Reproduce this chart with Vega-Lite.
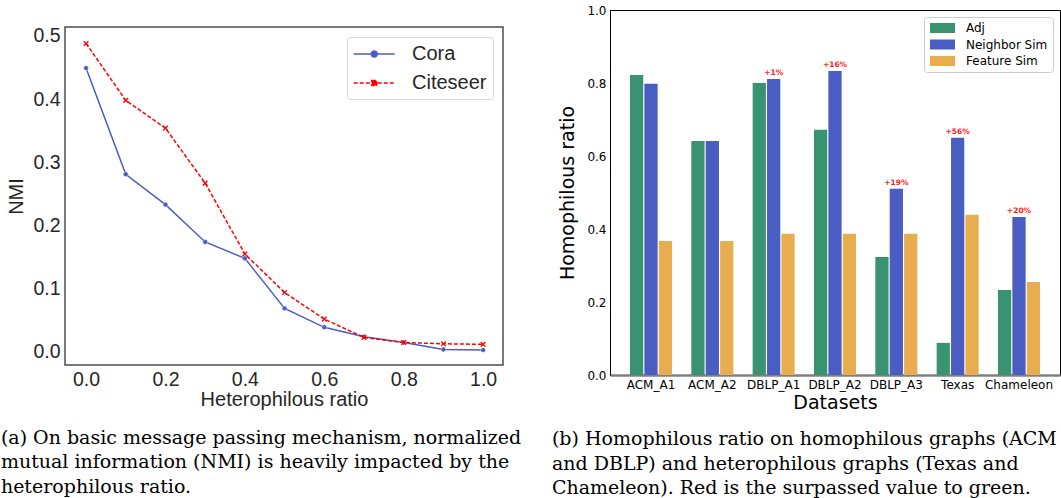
{
  "$schema": "https://vega.github.io/schema/vega-lite/v6.json",
  "padding": {"left": 0, "top": 3, "right": 0, "bottom": 0},
  "background": "white",
  "spacing": 28,
  "resolve": {"scale": {"color": "independent"}, "legend": {"color": "independent"}},
  "hconcat": [
    {
      "spacing": 0,
      "resolve": {"scale": {"color": "independent"}, "legend": {"color": "independent"}},
      "vconcat": [
        {
          "width": 438,
          "height": 15,
          "data": {"values": []},
          "mark": "point",
          "view": {"stroke": null}
        },
        {
          "width": 438,
          "height": 338,
          "title": {
            "text": ["(a) On basic message passing mechanism, normalized", "mutual information (NMI) is heavily impacted by the", "heterophilous ratio."],
            "orient": "bottom", "anchor": "start", "font": "DejaVu Serif", "fontSize": 19, "fontWeight": "normal",
            "lineHeight": 24.5, "color": "black", "offset": 19, "dx": -6
          },
          "view": {"stroke": "#4d4d4d", "strokeWidth": 1.5},
          "data": {"values": [
            {"ratio": 0.0, "series": "Cora", "nmi": 0.449},
            {"ratio": 0.1, "series": "Cora", "nmi": 0.281},
            {"ratio": 0.2, "series": "Cora", "nmi": 0.233},
            {"ratio": 0.3, "series": "Cora", "nmi": 0.174},
            {"ratio": 0.4, "series": "Cora", "nmi": 0.148},
            {"ratio": 0.5, "series": "Cora", "nmi": 0.069},
            {"ratio": 0.6, "series": "Cora", "nmi": 0.039},
            {"ratio": 0.7, "series": "Cora", "nmi": 0.024},
            {"ratio": 0.8, "series": "Cora", "nmi": 0.015},
            {"ratio": 0.9, "series": "Cora", "nmi": 0.004},
            {"ratio": 1.0, "series": "Cora", "nmi": 0.003},
            {"ratio": 0.0, "series": "Citeseer", "nmi": 0.488},
            {"ratio": 0.1, "series": "Citeseer", "nmi": 0.398},
            {"ratio": 0.2, "series": "Citeseer", "nmi": 0.354},
            {"ratio": 0.3, "series": "Citeseer", "nmi": 0.267},
            {"ratio": 0.4, "series": "Citeseer", "nmi": 0.155},
            {"ratio": 0.5, "series": "Citeseer", "nmi": 0.094},
            {"ratio": 0.6, "series": "Citeseer", "nmi": 0.052},
            {"ratio": 0.7, "series": "Citeseer", "nmi": 0.023},
            {"ratio": 0.8, "series": "Citeseer", "nmi": 0.015},
            {"ratio": 0.9, "series": "Citeseer", "nmi": 0.013},
            {"ratio": 1.0, "series": "Citeseer", "nmi": 0.012}
          ]},
          "encoding": {
            "x": {
              "field": "ratio", "type": "quantitative",
              "scale": {"domain": [-0.053, 1.05], "nice": false, "zero": false},
              "axis": {
                "values": [0, 0.2, 0.4, 0.6, 0.8, 1.0], "format": ".1f", "title": "Heterophilous ratio",
                "grid": false, "ticks": false, "domain": false,
                "labelFont": "Liberation Sans", "labelFontSize": 19.5, "labelColor": "#262626", "labelPadding": 5,
                "titleFont": "Liberation Sans", "titleFontSize": 20, "titleFontWeight": "normal", "titleColor": "#262626", "titlePadding": 1
              }
            },
            "y": {
              "field": "nmi", "type": "quantitative",
              "scale": {"domain": [-0.0206, 0.514], "nice": false, "zero": false},
              "axis": {
                "values": [0, 0.1, 0.2, 0.3, 0.4, 0.5], "format": ".1f", "title": "NMI",
                "grid": false, "ticks": false, "domain": false,
                "labelFont": "Liberation Sans", "labelFontSize": 19.5, "labelColor": "#262626", "labelPadding": 5,
                "titleFont": "Liberation Sans", "titleFontSize": 20, "titleFontWeight": "normal", "titleColor": "#262626", "titlePadding": 6
              }
            },
            "color": {
              "field": "series", "type": "nominal",
              "scale": {"domain": ["Cora", "Citeseer"], "range": ["#4a5cc7", "#ff0000"]},
              "legend": {
                "title": null, "orient": "top-right", "offset": 10, "padding": 6,
                "fillColor": "white", "strokeColor": "#d6d6d6", "cornerRadius": 3,
                "labelFont": "Liberation Sans", "labelFontSize": 20, "labelColor": "#262626", "labelOffset": 37,
                "symbolSize": 420, "symbolStrokeWidth": 1.5, "rowPadding": 8,
                "encode": {
                  "symbols": {
                    "update": {
                      "shape": {"signal": "datum.value === 'Cora' ? 'M-1,0L3,0M0.71,0A0.29,0.29,0,1,0,1.29,0A0.29,0.29,0,1,0,0.71,0Z' : 'M-1,0L3,0M0.76,-0.24L1.24,-0.24L1.24,0.24L0.76,0.24Z'"},
                      "strokeDash": {"signal": "datum.value === 'Cora' ? [1, 0] : [4, 2]"},
                      "stroke": {"signal": "datum.value === 'Cora' ? '#4a5cc7' : '#ff0000'"},
                      "fill": {"signal": "datum.value === 'Cora' ? '#4a5cc7' : '#ff0000'"},
                      "strokeWidth": {"value": 1.5},
                      "opacity": {"value": 1},
                      "fillOpacity": {"value": 1},
                      "strokeOpacity": {"value": 1}
                    }
                  }
                }
              }
            }
          },
          "layer": [
            {
              "transform": [{"filter": "datum.series === 'Cora'"}],
              "mark": {"type": "line", "strokeWidth": 1.5}
            },
            {
              "transform": [{"filter": "datum.series === 'Cora'"}],
              "mark": {"type": "point", "shape": "circle", "filled": true, "size": 24, "opacity": 1, "stroke": "white", "strokeWidth": 0.4}
            },
            {
              "transform": [{"filter": "datum.series === 'Citeseer'"}],
              "mark": {"type": "line", "strokeWidth": 1.5, "strokeDash": [4, 2]}
            },
            {
              "transform": [{"filter": "datum.series === 'Citeseer'"}],
              "mark": {"type": "point", "shape": "M-1,-1L1,1M1,-1L-1,1", "filled": false, "size": 22, "opacity": 1, "strokeWidth": 1.3}
            }
          ]
        }
      ]
    },
    {
      "width": 450,
      "height": 365,
      "title": {
        "text": ["(b) Homophilous ratio on homophilous graphs (ACM", "and DBLP) and heterophilous graphs (Texas and", "Chameleon). Red is the surpassed value to green."],
        "orient": "bottom", "anchor": "start", "font": "DejaVu Serif", "fontSize": 19, "fontWeight": "normal",
        "lineHeight": 24.5, "color": "black", "offset": 18, "dx": -7
      },
      "view": {"stroke": "black", "strokeWidth": 1},
      "data": {"values": [
        {"dataset": "ACM_A1", "measure": "Adj", "value": 0.822},
        {"dataset": "ACM_A1", "measure": "Neighbor Sim", "value": 0.798},
        {"dataset": "ACM_A1", "measure": "Feature Sim", "value": 0.367},
        {"dataset": "ACM_A2", "measure": "Adj", "value": 0.641},
        {"dataset": "ACM_A2", "measure": "Neighbor Sim", "value": 0.641},
        {"dataset": "ACM_A2", "measure": "Feature Sim", "value": 0.367},
        {"dataset": "DBLP_A1", "measure": "Adj", "value": 0.800},
        {"dataset": "DBLP_A1", "measure": "Neighbor Sim", "value": 0.811, "gain": "+1%"},
        {"dataset": "DBLP_A1", "measure": "Feature Sim", "value": 0.387},
        {"dataset": "DBLP_A2", "measure": "Adj", "value": 0.672},
        {"dataset": "DBLP_A2", "measure": "Neighbor Sim", "value": 0.833, "gain": "+16%"},
        {"dataset": "DBLP_A2", "measure": "Feature Sim", "value": 0.387},
        {"dataset": "DBLP_A3", "measure": "Adj", "value": 0.323},
        {"dataset": "DBLP_A3", "measure": "Neighbor Sim", "value": 0.510, "gain": "+19%"},
        {"dataset": "DBLP_A3", "measure": "Feature Sim", "value": 0.387},
        {"dataset": "Texas", "measure": "Adj", "value": 0.088},
        {"dataset": "Texas", "measure": "Neighbor Sim", "value": 0.650, "gain": "+56%"},
        {"dataset": "Texas", "measure": "Feature Sim", "value": 0.439},
        {"dataset": "Chameleon", "measure": "Adj", "value": 0.233},
        {"dataset": "Chameleon", "measure": "Neighbor Sim", "value": 0.433, "gain": "+20%"},
        {"dataset": "Chameleon", "measure": "Feature Sim", "value": 0.255}
      ]},
      "encoding": {
        "x": {
          "field": "dataset", "type": "nominal",
          "sort": ["ACM_A1", "ACM_A2", "DBLP_A1", "DBLP_A2", "DBLP_A3", "Texas", "Chameleon"],
          "scale": {"paddingInner": 0.315, "paddingOuter": 0.326},
          "axis": {
            "labelAngle": 0, "title": "Datasets", "ticks": false,
            "domainColor": "#808080", "domainWidth": 2.5,
            "labelFont": "DejaVu Sans", "labelFontSize": 12, "labelColor": "black", "labelPadding": 4,
            "titleFont": "DejaVu Sans", "titleFontSize": 19, "titleFontWeight": "normal", "titleColor": "black", "titlePadding": 3
          }
        },
        "xOffset": {
          "field": "measure", "type": "nominal",
          "sort": ["Adj", "Neighbor Sim", "Feature Sim"],
          "scale": {"paddingInner": 0.08, "paddingOuter": 0}
        },
        "y": {
          "field": "value", "type": "quantitative",
          "scale": {"domain": [0, 1], "nice": false},
          "axis": {
            "values": [0, 0.2, 0.4, 0.6, 0.8, 1.0], "format": ".1f", "title": "Homophilous ratio",
            "grid": false, "ticks": false, "domainColor": "black", "domainWidth": 1,
            "labelFont": "DejaVu Sans", "labelFontSize": 12, "labelColor": "black", "labelPadding": 4,
            "titleFont": "DejaVu Sans", "titleFontSize": 19, "titleFontWeight": "normal", "titleColor": "black", "titlePadding": 9
          }
        }
      },
      "layer": [
        {
          "mark": {"type": "bar"},
          "encoding": {
            "color": {
              "field": "measure", "type": "nominal",
              "sort": ["Adj", "Neighbor Sim", "Feature Sim"],
              "scale": {"domain": ["Adj", "Neighbor Sim", "Feature Sim"], "range": ["#379370", "#4a5dc3", "#e8ad4f"]},
              "legend": {
                "title": null, "orient": "top-right", "offset": 7, "padding": 5,
                "fillColor": "white", "strokeColor": "#cccccc", "cornerRadius": 3,
                "labelFont": "DejaVu Sans", "labelFontSize": 12, "labelColor": "black", "labelOffset": 25,
                "symbolType": "M-1,-1L4,-1L4,1L-1,1Z", "symbolSize": 100, "symbolStrokeWidth": 0, "rowPadding": 4.5
              }
            }
          }
        },
        {
          "transform": [{"filter": "datum.gain"}],
          "mark": {"type": "text", "color": "#ff1a1a", "font": "DejaVu Sans", "fontSize": 7.5, "fontWeight": "bold", "dy": -6},
          "encoding": {
            "text": {"field": "gain", "type": "nominal"}
          }
        }
      ]
    }
  ]
}
